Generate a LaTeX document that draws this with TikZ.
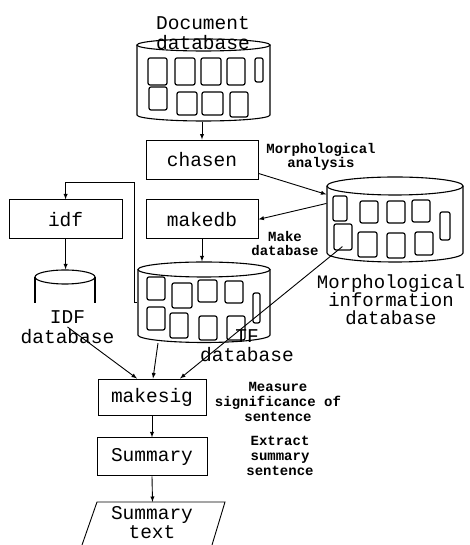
\documentclass[tikz,border=0pt]{standalone}
\usepackage{fontspec}
\setmainfont{Liberation Mono}
\usetikzlibrary{shapes, positioning, arrows, fit}

% cylinder: name, left, right, top centre, bottom centre, y radius
\newcommand{\dbcyl}[6]{%
  \pgfmathsetmacro{\cylcx}{(#2+#3)/2}%
  \pgfmathsetmacro{\cylrx}{(#3-#2)/2}%
  \draw (\cylcx,#4) ellipse [x radius=\cylrx, y radius=#6];
  \draw (#2,#4) -- (#2,#5) arc [start angle=180, end angle=360, x radius=\cylrx, y radius=#6] -- (#3,#4);
  \node[fit={(#2,#4+#6) (#3,#5-#6)}, inner sep=0pt] (#1) {};
}

\begin{document}
\begin{tikzpicture}[
          x=1pt, y=1pt,
          line width=1.1pt,
          >=latex,
          proc/.style={draw, line width=0.9pt, minimum width=112pt, minimum height=39pt, font=\fontsize{19.5}{20}\selectfont},
          dblabel/.style={align=center, font=\fontsize{19.5}{19.5}\selectfont},
          note/.style={align=center, font=\fontsize{14}{14}\selectfont\bfseries},
          sheet/.style={rounded corners=2pt, line width=1.2pt},
          flow/.style={->, line width=0.9pt}
        ]
        \useasboundingbox (0,0) rectangle (469,545);

        % processes
        \node[proc] (chasen) at (202,385.5) {chasen};
        \node[proc, below=20pt of chasen] (makedb) {makedb};
        \node[proc, minimum width=113pt, left=23pt of makedb] (idf) {idf};
        \node[proc, minimum width=108pt, minimum height=36pt] (makesig) at (152,148) {makesig};
        \node[proc, minimum width=110pt, minimum height=38pt, below=22pt of makesig] (summary) {Summary};

        % databases
        \dbcyl{docdb}{137}{270}{500}{430}{6}
        \foreach \a/\b/\c/\d in {148/167/487/460, 175/195/487/460, 201/221/487/460, 227/245/487/460, 255/263/487/463,
            149/167/458/435, 177/197/453/430, 202/223/453/430, 230/248/453/428}
          \draw[sheet] (\a,\c) rectangle (\b,\d);
        \node[dblabel] (docname) at (203,512) {Document\\database};

        \dbcyl{morphdb}{327}{463}{359}{292}{9}
        \foreach \a/\b/\c/\d in {333/347/349/324, 360/378/344/322, 387/405/344/322, 412/430/345/323, 440/450/333/305,
            334/352/321/295, 358/377/313/288, 387/405/312/287, 415/433/313/290}
          \draw[sheet] (\a,\c) rectangle (\b,\d);
        \node[dblabel, font=\fontsize{19}{17.5}\selectfont] (morphname) at (391,245.5) {Morphological\\information\\database};

        \dbcyl{tfdb}{138}{270}{275.5}{210}{7.5}
        \foreach \a/\b/\c/\d in {147/165/268/245, 172/192/262/237, 198/217/265/243, 225/243/264/242, 253/260/252/222,
            147/165/238/215, 170/188/232/207, 199/217/229/205, 227/245/229/205}
          \draw[sheet] (\a,\c) rectangle (\b,\d);
        \node[dblabel] (tfname) at (247,199.5) {TF\\database};

        \draw (65,268) ellipse [x radius=30, y radius=7];
        \draw (35,268) -- (35,242);
        \draw (95,268) -- (95,242);
        \node[fit={(35,275) (95,242)}, inner sep=0pt] (idfdb) {};
        \node[dblabel] (idfname) at (67.5,218) {IDF\\database};

        % output
        \draw[line width=0.9pt] (82,0) -- (97,43) -- (225,43) -- (212,0);
        \coordinate (sumtop) at (152.5,43);
        \node[dblabel] (sumtext) at (152,22.5) {Summary\\text};

        % notes
        \node[note, font=\fontsize{14}{13}\selectfont\bfseries] (morphnote) at (321,388.5) {Morphological\\analysis};
        \node[note] (makenote) at (285,301) {Make\\database};
        \node[note, font=\fontsize{14}{15}\selectfont\bfseries] (signote) at (278,143) {Measure\\significance of\\sentence};
        \node[note, font=\fontsize{14}{15}\selectfont\bfseries] (extnote) at (280,89) {Extract\\summary\\sentence};

        % flow
        \draw[flow] (docdb.south -| chasen.north) -- (chasen.north);
        \draw[flow] ([yshift=6pt]chasen.south east) -- ([yshift=-18pt]morphdb.north west);
        \draw[flow] ([yshift=-27pt]morphdb.north west) -- (makedb.east);
        \draw[flow] (makedb.south) -- (makedb.south |- tfdb.north);
        \draw[flow] (tfdb.west) -- ++(-3,0) -- ++(0,120) -| (idf.north);
        \draw[flow] (idf.south) -- (idf.south |- idfdb.north);
        \draw[flow] (idfname.center) -- ([xshift=-15pt]makesig.north);
        \draw[flow] ([xshift=-46pt]tfdb.south) -- ([xshift=1pt]makesig.north);
        \draw[flow] ([shift={(16pt,16pt)}]morphdb.south west) -- ([xshift=28pt]makesig.north);
        \draw[flow] (makesig.south) -- (makesig.south |- summary.north);
        \draw[flow] (summary.south) -- (sumtop);

        \end{tikzpicture}
\end{document}
